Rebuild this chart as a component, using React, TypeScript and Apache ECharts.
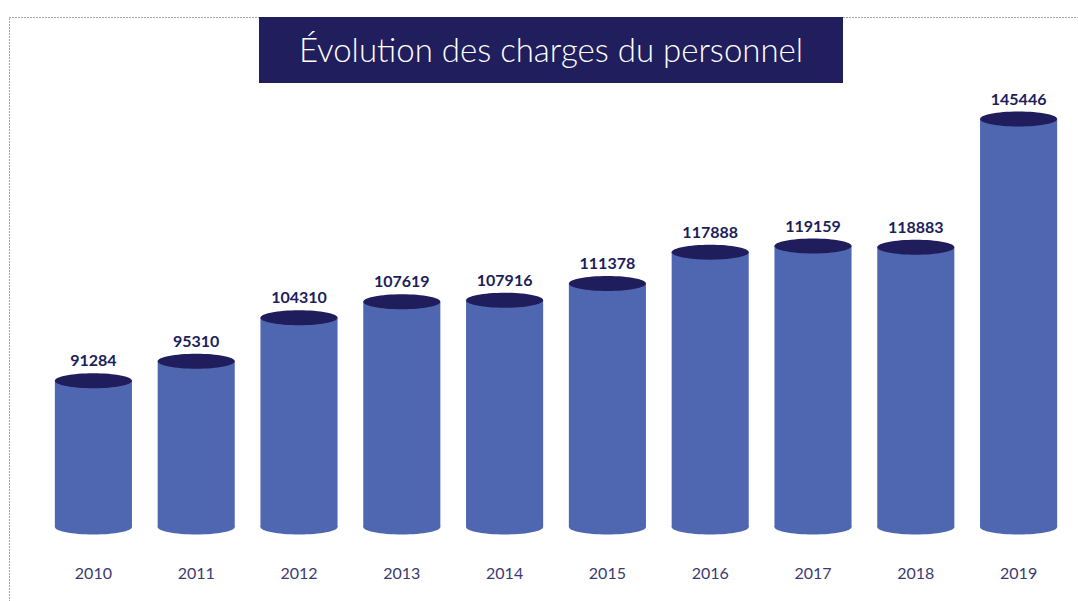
import React, { useEffect, useRef } from "react";
import * as echarts from "echarts";

const years = ["2010", "2011", "2012", "2013", "2014", "2015", "2016", "2017", "2018", "2019"];
const charges = [91284, 95310, 104310, 107619, 107916, 111378, 117888, 119159, 118883, 145446];
const title = "Évolution des charges du personnel";
const axisMin = 61000;
const axisMax = 150000;

const BODY = "#4f67b1";
const TOP = "#201d5c";
const NAVY = "#201e5c";

export default function App() {
  const ref = useRef<HTMLDivElement>(null);
  useEffect(() => {
    if (!ref.current) return;
    const chart = echarts.init(ref.current, null, { renderer: "svg" });
    chart.setOption({
      animation: false,
      backgroundColor: "#ffffff",
      grid: { left: 42, right: 8, top: 97, bottom: 74 },
      xAxis: {
        type: "category",
        data: years,
        axisLine: { show: false },
        axisTick: { show: false },
        axisLabel: {
          margin: 37,
          color: "#3b3a70",
          fontSize: 16,
          fontFamily: "Lato",
        },
      },
      yAxis: {
        type: "value",
        min: axisMin,
        max: axisMax,
        show: false,
        splitLine: { show: false },
      },
      graphic: [
        {
          type: "rect",
          z: 0,
          silent: true,
          shape: { x: 9.5, y: 17.5, width: 1100, height: 620 },
          style: { fill: "none", stroke: "#4a4a75", lineWidth: 1, lineDash: [1, 2] },
        },
        {
          type: "rect",
          z: 10,
          shape: { x: 259, y: 17, width: 584, height: 66 },
          style: { fill: NAVY },
        },
        {
          type: "text",
          z: 11,
          x: 551,
          y: 49,
          style: {
            text: title,
            fill: "#ffffff",
            font: "300 33px Lato",
            textAlign: "center",
            textVerticalAlign: "middle",
          },
        },
      ],
      series: [
        {
          type: "custom",
          data: charges,
          renderItem: (params: any, api: any) => {
            const idx = api.value(0);
            const val = api.value(1);
            const top = api.coord([idx, val]);
            const bottom = api.coord([idx, axisMin]);
            const band = api.size([1, 0])[0];
            const w = band * 0.75;
            const rx = w / 2;
            const ry = 7.5;
            const x0 = top[0] - rx;
            return {
              type: "group",
              children: [
                {
                  type: "ellipse",
                  shape: { cx: top[0], cy: bottom[1], rx, ry },
                  style: { fill: BODY },
                },
                {
                  type: "rect",
                  shape: { x: x0, y: top[1], width: w, height: bottom[1] - top[1] },
                  style: { fill: BODY },
                },
                {
                  type: "ellipse",
                  shape: { cx: top[0], cy: top[1], rx, ry },
                  style: { fill: TOP },
                },
                {
                  type: "text",
                  x: top[0],
                  y: top[1] - 21,
                  style: {
                    text: String(val),
                    fill: TOP,
                    font: "bold 16px Lato",
                    textAlign: "center",
                    textVerticalAlign: "middle",
                  },
                },
              ],
            };
          },
        },
      ],
    });
    return () => chart.dispose();
  }, []);
  return (
    <div
      ref={ref}
      style={{ position: "absolute", left: 0, top: 0, width: 1078, height: 601 }}
    />
  );
}
